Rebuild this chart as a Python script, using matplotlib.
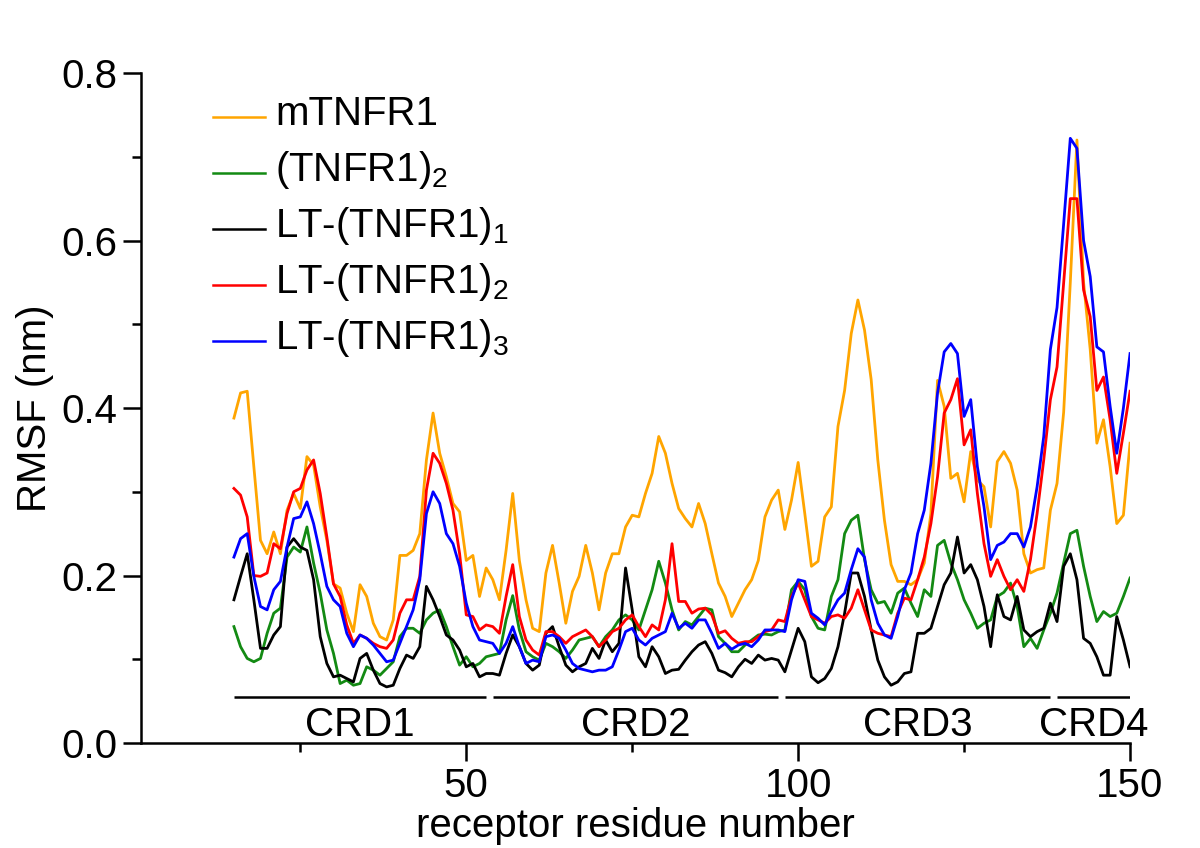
import matplotlib
matplotlib.use("Agg")
import matplotlib.pyplot as plt
from matplotlib.ticker import MultipleLocator

plt.rcParams["font.family"] = "Liberation Sans"
plt.rcParams["mathtext.fontset"] = "custom"
plt.rcParams["mathtext.rm"] = "Liberation Sans"
plt.rcParams["mathtext.default"] = "regular"

residues = list(range(15, 151))

mtnfr1 = [
    0.388, 0.418, 0.420, 0.330, 0.242, 0.226, 0.252, 0.226, 0.278, 0.298,
    0.280, 0.342, 0.332, 0.282, 0.242, 0.190, 0.185, 0.155, 0.133, 0.189,
    0.175, 0.143, 0.127, 0.123, 0.147, 0.224, 0.224, 0.230, 0.250, 0.338,
    0.394, 0.346, 0.318, 0.286, 0.276, 0.218, 0.224, 0.175, 0.209, 0.195,
    0.171, 0.230, 0.298, 0.218, 0.171, 0.137, 0.133, 0.203, 0.236, 0.191,
    0.143, 0.181, 0.199, 0.236, 0.203, 0.159, 0.203, 0.226, 0.226, 0.258,
    0.272, 0.270, 0.298, 0.322, 0.366, 0.346, 0.310, 0.280, 0.268, 0.258,
    0.286, 0.262, 0.226, 0.191, 0.175, 0.151, 0.167, 0.183, 0.195, 0.218,
    0.270, 0.290, 0.302, 0.255, 0.290, 0.335, 0.274, 0.211, 0.217, 0.270,
    0.282, 0.378, 0.421, 0.489, 0.529, 0.493, 0.434, 0.338, 0.266, 0.213,
    0.193, 0.193, 0.189, 0.195, 0.215, 0.274, 0.433, 0.402, 0.316, 0.322,
    0.288, 0.348, 0.314, 0.306, 0.258, 0.336, 0.348, 0.334, 0.302, 0.226,
    0.203, 0.207, 0.209, 0.278, 0.310, 0.395, 0.550, 0.720, 0.550, 0.470,
    0.358, 0.386, 0.330, 0.262, 0.272, 0.358,
]

tnfr1_2 = [
    0.139, 0.115, 0.101, 0.097, 0.101, 0.131, 0.155, 0.161, 0.222, 0.234,
    0.228, 0.258, 0.215, 0.179, 0.135, 0.107, 0.071, 0.075, 0.069, 0.071,
    0.091, 0.087, 0.081, 0.089, 0.097, 0.127, 0.137, 0.137, 0.131, 0.147,
    0.155, 0.159, 0.139, 0.115, 0.093, 0.103, 0.091, 0.095, 0.103, 0.105,
    0.107, 0.147, 0.176, 0.135, 0.109, 0.103, 0.099, 0.119, 0.115, 0.109,
    0.101, 0.111, 0.123, 0.125, 0.127, 0.115, 0.127, 0.135, 0.147, 0.153,
    0.147, 0.135, 0.159, 0.183, 0.217, 0.191, 0.159, 0.135, 0.145, 0.141,
    0.151, 0.161, 0.159, 0.127, 0.119, 0.109, 0.109, 0.117, 0.123, 0.129,
    0.130, 0.129, 0.133, 0.135, 0.183, 0.193, 0.183, 0.151, 0.137, 0.135,
    0.175, 0.195, 0.250, 0.266, 0.272, 0.219, 0.183, 0.167, 0.169, 0.155,
    0.179, 0.185, 0.167, 0.151, 0.183, 0.175, 0.236, 0.242, 0.215, 0.195,
    0.171, 0.155, 0.137, 0.143, 0.147, 0.175, 0.180, 0.191, 0.163, 0.115,
    0.125, 0.113, 0.135, 0.155, 0.179, 0.215, 0.250, 0.254, 0.211, 0.175,
    0.145, 0.157, 0.151, 0.155, 0.175, 0.197,
]

lt_tnfr1_1 = [
    0.171, 0.199, 0.226, 0.171, 0.113, 0.113, 0.129, 0.139, 0.234, 0.244,
    0.234, 0.230, 0.195, 0.127, 0.095, 0.079, 0.081, 0.077, 0.073, 0.101,
    0.107, 0.087, 0.071, 0.067, 0.069, 0.089, 0.105, 0.101, 0.115, 0.187,
    0.171, 0.151, 0.129, 0.123, 0.111, 0.091, 0.095, 0.079, 0.083, 0.083,
    0.081, 0.107, 0.129, 0.115, 0.095, 0.087, 0.093, 0.131, 0.139, 0.115,
    0.093, 0.085, 0.091, 0.095, 0.113, 0.101, 0.123, 0.109, 0.119, 0.209,
    0.159, 0.103, 0.091, 0.115, 0.103, 0.083, 0.087, 0.088, 0.099, 0.109,
    0.117, 0.121, 0.107, 0.087, 0.084, 0.079, 0.091, 0.100, 0.095, 0.105,
    0.099, 0.101, 0.099, 0.085, 0.111, 0.137, 0.121, 0.079, 0.072, 0.077,
    0.089, 0.115, 0.155, 0.203, 0.203, 0.175, 0.135, 0.099, 0.079, 0.069,
    0.073, 0.083, 0.085, 0.131, 0.131, 0.137, 0.163, 0.189, 0.203, 0.246,
    0.203, 0.213, 0.195, 0.163, 0.115, 0.177, 0.151, 0.147, 0.175, 0.135,
    0.127, 0.133, 0.137, 0.167, 0.145, 0.211, 0.226, 0.195, 0.125, 0.119,
    0.103, 0.081, 0.081, 0.151, 0.123, 0.091,
]

lt_tnfr1_2 = [
    0.304, 0.296, 0.270, 0.200, 0.199, 0.203, 0.238, 0.232, 0.274, 0.300,
    0.304, 0.326, 0.338, 0.298, 0.246, 0.190, 0.175, 0.141, 0.119, 0.129,
    0.125, 0.119, 0.115, 0.113, 0.123, 0.155, 0.171, 0.171, 0.199, 0.302,
    0.346, 0.334, 0.310, 0.278, 0.226, 0.153, 0.151, 0.135, 0.141, 0.139,
    0.131, 0.175, 0.213, 0.151, 0.123, 0.111, 0.105, 0.133, 0.133, 0.127,
    0.119, 0.127, 0.131, 0.135, 0.127, 0.115, 0.123, 0.133, 0.137, 0.147,
    0.153, 0.139, 0.127, 0.141, 0.135, 0.171, 0.238, 0.169, 0.169, 0.155,
    0.160, 0.161, 0.153, 0.131, 0.134, 0.125, 0.119, 0.121, 0.121, 0.127,
    0.133, 0.135, 0.147, 0.145, 0.175, 0.191, 0.171, 0.151, 0.147, 0.143,
    0.151, 0.153, 0.149, 0.161, 0.183, 0.159, 0.135, 0.131, 0.129, 0.127,
    0.155, 0.173, 0.171, 0.195, 0.222, 0.262, 0.318, 0.394, 0.410, 0.435,
    0.356, 0.374, 0.298, 0.238, 0.199, 0.219, 0.199, 0.183, 0.195, 0.181,
    0.219, 0.274, 0.338, 0.410, 0.449, 0.550, 0.650, 0.650, 0.541, 0.509,
    0.421, 0.437, 0.386, 0.322, 0.370, 0.420,
]

lt_tnfr1_3 = [
    0.222, 0.244, 0.250, 0.199, 0.163, 0.159, 0.183, 0.193, 0.234, 0.268,
    0.270, 0.288, 0.262, 0.226, 0.187, 0.171, 0.163, 0.131, 0.115, 0.129,
    0.125, 0.117, 0.107, 0.097, 0.099, 0.119, 0.139, 0.159, 0.195, 0.274,
    0.300, 0.286, 0.250, 0.238, 0.211, 0.167, 0.139, 0.123, 0.121, 0.119,
    0.107, 0.119, 0.139, 0.115, 0.095, 0.099, 0.097, 0.127, 0.129, 0.125,
    0.111, 0.095, 0.089, 0.087, 0.085, 0.087, 0.087, 0.091, 0.111, 0.133,
    0.137, 0.123, 0.117, 0.125, 0.129, 0.133, 0.155, 0.137, 0.143, 0.137,
    0.147, 0.147, 0.131, 0.113, 0.119, 0.112, 0.117, 0.119, 0.115, 0.123,
    0.135, 0.135, 0.135, 0.133, 0.171, 0.195, 0.193, 0.155, 0.149, 0.141,
    0.157, 0.171, 0.179, 0.207, 0.232, 0.222, 0.171, 0.143, 0.129, 0.125,
    0.151, 0.183, 0.203, 0.250, 0.278, 0.334, 0.418, 0.467, 0.477, 0.465,
    0.390, 0.410, 0.330, 0.282, 0.219, 0.236, 0.240, 0.250, 0.250, 0.234,
    0.258, 0.306, 0.366, 0.470, 0.520, 0.620, 0.722, 0.710, 0.600, 0.557,
    0.473, 0.467, 0.402, 0.346, 0.400, 0.465,
]

series_names = ["mTNFR1", "(TNFR1)$_2$", "LT-(TNFR1)$_1$",
                "LT-(TNFR1)$_2$", "LT-(TNFR1)$_3$"]
series_colors = ["#FFA500", "#138A13", "#000000", "#FF0000", "#0000FF"]
series_values = [mtnfr1, tnfr1_2, lt_tnfr1_1, lt_tnfr1_2, lt_tnfr1_3]

crd_names = ["CRD1", "CRD2", "CRD3", "CRD4"]
crd_start = [15, 54, 98, 139]
crd_end = [53, 97, 138, 150]
crd_bar_y = 0.055

fig = plt.figure(figsize=(12, 8.48), dpi=100, facecolor="white")
ax = fig.add_axes([0.1175, 0.1238, 0.8242, 0.7901])

for vals, col in zip(series_values, series_colors):
    ax.plot(residues, vals, color=col, lw=2.0)

# domain bars along the bottom
for name, s, e in zip(crd_names, crd_start, crd_end):
    ax.plot([s, e], [crd_bar_y, crd_bar_y], color="black", lw=1.8,
            solid_capstyle="butt")
    ax.text((s + e) / 2, 0.008, name, ha="center", va="baseline",
            fontsize=29)

# legend drawn by hand so rows are evenly spaced
for i, (name, col) in enumerate(zip(series_names, series_colors)):
    yb = 0.922 - i * 0.0836
    ax.plot([0.073, 0.125], [yb + 0.012, yb + 0.012], color=col, lw=1.8,
            transform=ax.transAxes)
    ax.text(0.1355, yb, name, transform=ax.transAxes, fontsize=29,
            ha="left", va="baseline")

ax.set_xlim(1, 150)
ax.set_ylim(0, 0.8)
ax.xaxis.set_major_locator(MultipleLocator(50))
ax.xaxis.set_minor_locator(MultipleLocator(25))
ax.yaxis.set_major_locator(MultipleLocator(0.2))
ax.yaxis.set_minor_locator(MultipleLocator(0.1))
ax.yaxis.set_major_formatter(plt.FormatStrFormatter("%.1f"))

ax.spines["top"].set_visible(False)
ax.spines["right"].set_visible(False)
ax.spines["left"].set_linewidth(1.8)
ax.spines["bottom"].set_linewidth(1.8)
ax.tick_params(which="major", direction="out", length=13, width=1.8,
               labelsize=29, pad=4)
ax.tick_params(which="minor", direction="out", length=6.5, width=1.8)

ax.set_xlabel("receptor residue number", fontsize=29)
ax.set_ylabel("RMSF (nm)", fontsize=29)
ax.xaxis.set_label_coords(0.5, -0.095)
ax.yaxis.set_label_coords(-0.088, 0.5)

fig.savefig("out.png", dpi=100, facecolor="white")
